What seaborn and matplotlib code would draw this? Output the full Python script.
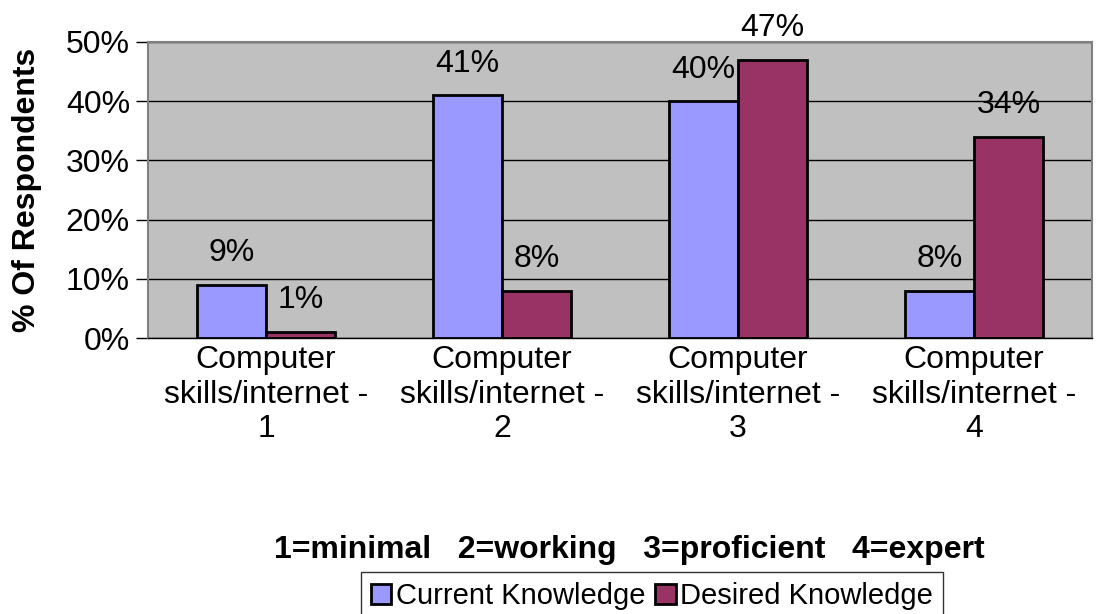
import matplotlib
matplotlib.use('Agg')
import matplotlib.pyplot as plt
import seaborn as sns
import pandas as pd

categories = ['Computer\nskills/internet -\n1', 'Computer\nskills/internet -\n2',
              'Computer\nskills/internet -\n3', 'Computer\nskills/internet -\n4']
current = [9, 41, 40, 8]
desired = [1, 8, 47, 34]
series = ['Current Knowledge', 'Desired Knowledge']
colors = ['#9999FF', '#993366']

df = pd.DataFrame({
    'skill': categories * 2,
    'pct': current + desired,
    'type': [series[0]] * 4 + [series[1]] * 4,
})

sns.set_style('white')
plt.rcParams['font.family'] = ['Liberation Sans', 'DejaVu Sans']
plt.rcParams['text.color'] = 'black'
plt.rcParams['xtick.color'] = 'black'
plt.rcParams['ytick.color'] = 'black'
plt.rcParams['axes.labelcolor'] = 'black'

fig = plt.figure(figsize=(11.03, 6.14), dpi=100)
ax = fig.add_axes([0.1342, 0.4495, 0.8558, 0.4821])
ax.set_facecolor('#C0C0C0')

sns.barplot(data=df, x='skill', y='pct', hue='type', palette=colors, saturation=1,
            edgecolor='black', linewidth=2, width=0.585, gap=0, ax=ax,
            legend=True, err_kws={'linewidth': 0})

for c in ax.containers:
    ax.bar_label(c, labels=[f'{int(v)}%' for v in c.datavalues],
                 padding=12, fontsize=23)

ax.set_ylim(0, 50)
ax.set_xlim(-0.5, 3.5)
ax.set_yticks([0, 10, 20, 30, 40, 50])
ax.set_yticklabels([f'{v}%' for v in [0, 10, 20, 30, 40, 50]], fontsize=23)
ax.yaxis.grid(True, color='black', linewidth=1)
ax.set_axisbelow(True)

# ticks at category boundaries
ax.set_xticks([-0.5, 0.5, 1.5, 2.5, 3.5], minor=True)
ax.set_xticks(range(4))
ax.set_xticklabels(categories, fontsize=23, linespacing=1.2)
ax.tick_params(axis='x', which='major', length=0, pad=5)
ax.tick_params(axis='x', which='minor', length=9, width=1, color='black', direction='out')
ax.tick_params(axis='y', length=9, width=1, color='black', direction='out', left=True, pad=4)

for s in ['left', 'top', 'right']:
    ax.spines[s].set_color('#808080')
    ax.spines[s].set_linewidth(1.5)
ax.spines['bottom'].set_color('black')
ax.spines['bottom'].set_linewidth(1)

ax.set_ylabel('% Of Respondents', fontsize=23, fontweight='bold')
ax.yaxis.set_label_coords(-0.112, 0.5)
ax.set_xlabel('1=minimal   2=working   3=proficient   4=expert',
              fontsize=23, fontweight='bold', va='center')
ax.xaxis.set_label_coords(0.51, -0.716)

handles, labels = ax.get_legend_handles_labels()
ax.get_legend().remove()
leg = fig.legend(handles, labels, loc='upper center', bbox_to_anchor=(0.591, 0.0684),
                 ncol=2, fontsize=21, frameon=True, fancybox=False,
                 handlelength=0.7, handleheight=0.7, handletextpad=0.15,
                 columnspacing=0.35, borderpad=0.35, borderaxespad=0)
leg.get_frame().set_edgecolor('black')
leg.get_frame().set_linewidth(1)

fig.savefig('out.png', dpi=100)
